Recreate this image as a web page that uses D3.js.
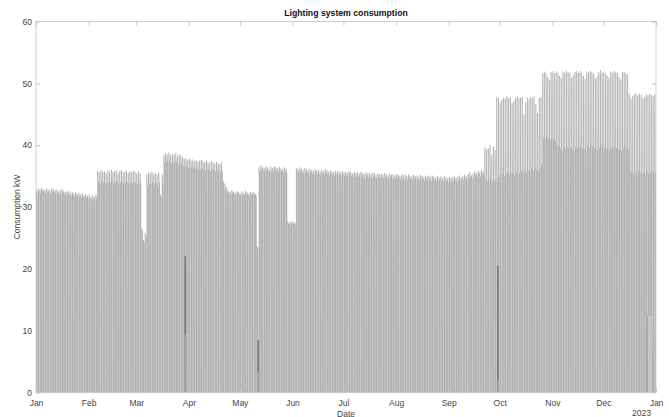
<!DOCTYPE html>
<html><head><meta charset="utf-8">
<script src="https://cdn.jsdelivr.net/npm/d3@7"></script>
<style>body{margin:0;background:#fff}svg{display:block}</style>
</head><body>
<svg id="c" width="669" height="417"></svg>
<script>
// ---- data (daily values for 2022, kW) ----
const yearStart = "2022-01-01";
const monthTicks = ["Jan","Feb","Mar","Apr","May","Jun","Jul","Aug","Sep","Oct","Nov","Dec","Jan"];
const yTicks = [0,10,20,30,40,50,60];
// daily maximum (short morning peak)
const peakKW = [
32.6,33.0,32.8,33.1,32.9,32.7,33.0, 32.8,32.6,33.0,32.9,32.7,32.8,32.5, 32.7,32.9,32.6,32.4,32.6,32.5,32.3,
32.5,32.2,32.4,32.1,32.3,32.0,32.2, 31.9,32.1,31.8,32.0,31.6,31.9,31.7, 32.0,35.9,35.6,36.0,35.7,35.8,35.5,
35.9,35.7,36.1,35.6,35.8,35.9,35.4, 35.8,36.0,35.6,35.7,35.9,35.5,35.8, 35.6,35.9,35.7,35.4,35.8,35.5,26.5,
24.6,25.8,35.2,35.6,35.4,35.7,35.3, 35.5,35.2,35.6,32.0,35.3,38.4,38.7, 38.5,38.8,38.3,38.6,38.4,38.7,38.2,
38.5,38.3,38.0,37.8,37.9,37.6,37.8, 37.5,37.7,37.4,37.6,37.3,37.5,37.6, 37.4,37.2,37.5,37.3,37.1,37.4,37.2,
37.0,37.3,37.1,36.9,37.2,34.2,33.8, 33.2,32.6,32.4,32.7,32.5,32.3,32.6, 32.4,32.2,32.5,32.3,32.6,32.4,32.2,
32.5,32.3,32.4,32.1,23.6,36.4,36.7, 36.5,36.3,36.6,36.4,36.2,36.5,36.3, 36.6,36.4,36.2,36.5,36.3,36.1,36.4,
36.2,27.6,27.5,27.7,27.6,27.5,36.3, 36.1,36.4,36.2,36.0,36.3,36.1,35.9, 36.2,36.0,35.8,36.1,35.9,36.0,35.7,
36.0,35.8,36.1,35.9,35.7,35.9,35.8, 35.6,35.9,35.7,35.8,35.5,35.8,35.6, 35.7,35.5,35.8,35.6,35.4,35.7,35.5,
35.6,35.4,35.7,35.5,35.3,35.6,35.4, 35.5,35.3,35.6,35.4,35.2,35.5,35.3, 35.4,35.2,35.5,35.3,35.1,35.4,35.2,
35.3,35.1,35.4,35.2,35.0,35.3,35.1, 35.2,35.0,35.3,35.1,34.9,35.2,35.0, 35.1,34.9,35.2,35.0,34.8,35.1,34.9,
35.0,34.8,35.1,34.9,34.7,35.0,34.8, 34.9,34.7,35.0,34.8,34.6,34.9,34.7, 34.8,35.0,34.7,34.9,35.1,34.8,35.0,
35.2,34.9,35.3,35.6,35.1,35.4,35.8, 35.5,35.9,35.6,36.0,35.7,39.6,39.3, 39.5,40.0,38.4,39.8,39.2,47.8,47.6,
46.9,47.3,47.7,47.5,47.9,47.6,47.8, 46.8,47.1,47.6,47.9,47.5,47.7,47.8, 44.9,46.9,47.7,47.4,47.8,47.6,47.9,
46.6,45.2,47.6,47.8,51.6,51.9,51.7, 51.0,50.6,51.8,52.0,51.6,51.9,51.7, 51.2,50.8,51.9,51.6,52.1,51.8,51.7,
50.9,51.3,51.8,52.0,51.7,51.9,51.6, 51.2,50.7,51.9,51.7,52.0,51.8,51.5, 50.8,51.1,51.8,52.1,51.7,51.9,51.6,
51.3,50.9,51.9,51.7,52.0,51.8,51.7, 51.0,50.6,51.8,51.9,51.6,51.4,48.3, 47.6,47.9,48.2,48.4,48.0,48.3,48.1,
47.5,47.8,48.2,48.0,48.3,48.1,47.9, 48.2
];
// daily working level (plateau)
const baseKW = [
32.1,32.4,32.2,32.5,32.3,32.1,32.4, 32.2,32.0,32.4,32.3,32.1,32.2,31.9, 32.1,32.3,32.0,31.8,32.0,31.9,31.7,
31.9,31.6,31.8,31.5,31.7,31.4,31.6, 31.3,31.5,31.2,31.4,31.0,31.3,31.1, 31.4,34.0,33.7,34.1,33.8,33.9,33.6,
34.0,33.8,34.2,33.7,33.9,34.0,33.5, 33.9,34.1,33.7,33.8,34.0,33.6,33.9, 33.7,34.0,33.8,33.5,33.9,33.6,26.0,
24.2,25.3,33.4,33.8,33.6,33.9,33.5, 33.7,33.4,33.8,31.5,33.5,37.0,37.3, 37.1,37.4,36.9,37.2,37.0,37.3,36.8,
37.1,36.9,36.6,36.4,36.5,36.2,36.4, 36.1,36.3,36.0,36.2,35.9,36.1,36.2, 36.0,35.8,36.1,35.9,35.7,36.0,35.8,
35.6,35.9,35.7,35.5,35.8,32.8,32.6, 32.3,32.1,31.9,32.2,32.0,31.8,32.1, 31.9,31.7,32.0,31.8,32.1,31.9,31.7,
32.0,31.8,31.9,31.6,23.2,35.7,36.0, 35.8,35.6,35.9,35.7,35.5,35.8,35.6, 35.9,35.7,35.5,35.8,35.6,35.4,35.7,
35.5,27.2,27.1,27.3,27.2,27.1,35.6, 35.4,35.7,35.5,35.3,35.6,35.4,35.2, 35.5,35.3,35.1,35.4,35.2,35.3,35.0,
35.3,35.1,35.4,35.2,35.0,35.2,35.1, 34.9,35.2,35.0,35.1,34.8,35.1,34.9, 35.0,34.8,35.1,34.9,34.7,35.0,34.8,
34.9,34.7,35.0,34.8,34.6,34.9,34.7, 34.8,34.6,34.9,34.7,34.5,34.8,34.6, 34.7,34.5,34.8,34.6,34.4,34.7,34.5,
34.6,34.4,34.7,34.5,34.3,34.6,34.4, 34.5,34.3,34.6,34.4,34.2,34.5,34.3, 34.4,34.2,34.5,34.3,34.1,34.4,34.2,
34.3,34.1,34.4,34.2,34.0,34.3,34.1, 34.2,34.0,34.3,34.1,33.9,34.2,34.0, 34.1,34.3,34.0,34.2,34.4,34.1,34.3,
34.5,34.2,34.6,34.9,34.4,34.7,35.1, 34.8,35.2,34.9,35.3,35.0,34.3,34.0, 34.2,34.5,34.1,34.4,33.9,34.6,34.8,
35.2,35.4,35.0,35.3,35.5,35.1,35.4, 35.3,35.0,35.6,35.2,35.5,35.8,35.4, 35.6,35.4,35.9,35.7,36.1,35.8,36.3,
36.0,35.7,36.4,36.8,41.2,41.0,41.4, 41.0,40.7,41.1,40.8,40.6,39.8,39.6, 39.4,39.2,39.6,39.3,39.7,39.4,39.5,
39.3,39.1,39.6,39.4,39.7,39.5,39.3, 39.4,39.2,39.7,39.5,39.8,39.6,39.4, 39.2,39.0,39.5,39.7,39.4,39.6,39.3,
39.3,39.1,39.6,39.4,39.7,39.5,39.4, 39.2,39.0,39.5,39.6,39.3,39.1,35.6, 35.5,35.2,35.7,35.4,35.8,35.5,35.3,
35.4,35.2,35.6,35.3,35.5,35.7,35.4, 35.6
];
// days whose night level did not fall to zero
const floorDays = [360, 361, 362];
const floorKW = [12.5, 12.5, 12.5];
// nights with irregular partial readings
const oddNightDays = [87, 130, 271];
const oddNightLow = [9.3, 3.3, 2.0];
const oddNightHigh = [22.0, 8.5, 20.5];

// ---- drawing ----
const svg = d3.select("#c");
const L = 36, R = 656, T = 21.5, B = 392.5;
const t0 = new Date(yearStart + "T00:00:00Z");
const dayMs = 86400000;
const x = d3.scaleUtc().domain([t0, new Date(t0.getTime() + 365 * dayMs)]).range([L, R]);
const y = d3.scaleLinear().domain([0, 60]).range([B, T]);

const pts = [];
peakKW.forEach((pk, d) => {
  const fi = floorDays.indexOf(d);
  const fl = fi >= 0 ? floorKW[fi] : 0;
  const at = f => new Date(t0.getTime() + (d + f) * dayMs);
  pts.push([at(0.0), fl], [at(0.27), fl], [at(0.275), pk], [at(0.36), baseKW[d]],
           [at(0.74), baseKW[d]], [at(0.755), fl]);
  const oi = oddNightDays.indexOf(d);
  if (oi >= 0) {
    [0.8, 0.82, 0.84, 0.86, 0.88, 0.9].forEach((f, k) =>
      pts.push([at(f), k % 2 ? oddNightLow[oi] : oddNightHigh[oi]]));
    pts.push([at(0.92), fl]);
  }
});

svg.append("defs").append("clipPath").attr("id", "clip")
  .append("rect").attr("x", L).attr("y", T).attr("width", R - L).attr("height", B - T);

const g = svg.append("g").attr("clip-path", "url(#clip)");
g.append("path").datum(pts)
  .attr("d", d3.area().x(p => x(p[0])).y0(B).y1(p => y(p[1])))
  .attr("fill", "#c6c6c6");
g.append("path").datum(pts)
  .attr("d", d3.line().x(p => x(p[0])).y(p => y(p[1])))
  .attr("fill", "none").attr("stroke", "#666").attr("stroke-width", 0.3);

// axes
const monthDates = monthTicks.map((m, i) => new Date(Date.UTC(2022, i, 1)));
const fmt = (d, i) => monthTicks[i];
const axColor = "#c4c4c4";
function style(sel) {
  sel.select(".domain").remove();
  sel.selectAll(".tick line").attr("stroke", axColor);
  sel.selectAll("text").attr("fill", "#444").attr("font-family", "Liberation Sans, Arial, sans-serif").attr("font-size", 8.5);
}
svg.append("g").attr("transform", `translate(0,${B})`)
  .call(d3.axisBottom(x).tickValues(monthDates).tickFormat(fmt).tickSizeInner(-4).tickSizeOuter(0).tickPadding(7))
  .call(style);
svg.append("g").attr("transform", `translate(0,${T})`)
  .call(d3.axisTop(x).tickValues(monthDates).tickFormat("").tickSizeInner(-4).tickSizeOuter(0))
  .call(style);
svg.append("g").attr("transform", `translate(${L},0)`)
  .call(d3.axisLeft(y).tickValues(yTicks).tickSizeInner(-4).tickSizeOuter(0).tickPadding(4))
  .call(style);
svg.append("g").attr("transform", `translate(${R},0)`)
  .call(d3.axisRight(y).tickValues(yTicks).tickFormat("").tickSizeInner(-4).tickSizeOuter(0))
  .call(style);
svg.append("rect").attr("x", L).attr("y", T).attr("width", R - L).attr("height", B - T)
  .attr("fill", "none").attr("stroke", axColor).attr("stroke-width", 0.8);

const font = "Liberation Sans, Arial, sans-serif";
svg.append("text").attr("x", (L + R) / 2).attr("y", 16).attr("text-anchor", "middle")
  .attr("font-family", font).attr("font-size", 8.7).attr("font-weight", "bold").attr("fill", "#111")
  .text("Lighting system consumption");
svg.append("text").attr("x", (L + R) / 2).attr("y", 416.5).attr("text-anchor", "middle")
  .attr("font-family", font).attr("font-size", 8.5).attr("fill", "#444").text("Date");
svg.append("text").attr("x", 651).attr("y", 416).attr("text-anchor", "end")
  .attr("font-family", font).attr("font-size", 8.5).attr("fill", "#444").text("2023");
svg.append("text").attr("transform", `translate(20,${(T + B) / 2}) rotate(-90)`)
  .attr("text-anchor", "middle").attr("font-family", font).attr("font-size", 8.5).attr("fill", "#444")
  .text("Consumption kW");
</script>
</body></html>
